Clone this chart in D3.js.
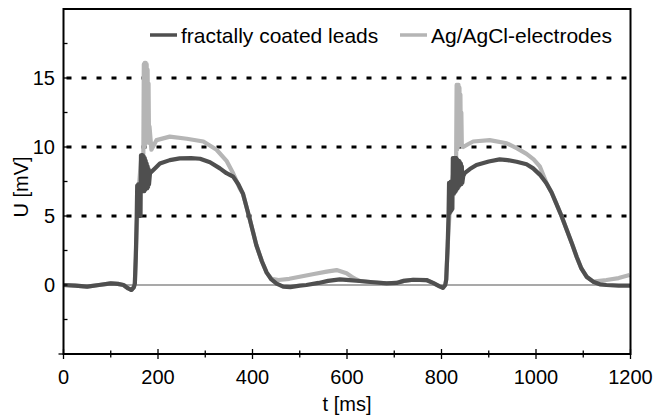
<!DOCTYPE html>
<html>
<head>
<meta charset="utf-8">
<script src="https://cdn.jsdelivr.net/npm/d3@7"></script>
<style>
  body { margin: 0; background: #fff; }
  text { font-family: "Liberation Sans", Arial, sans-serif; fill: #000; }
</style>
</head>
<body>
<div id="chart-area"></div>
<script>
// fractally coated leads (dark)
var darkT = [0, 25, 50, 75, 100, 115, 127, 137, 144, 149, 151, 153, 155, 156, 157, 158, 159, 160, 161, 162, 163,
    164, 165, 166, 167, 168, 169, 170, 171, 172, 173, 174, 175, 176, 177, 178, 179, 180, 181, 183, 195, 204, 225, 246, 270, 289, 310,
    331, 345, 359, 370, 380, 394, 408, 420, 430, 440, 451, 465, 480, 500, 514, 540, 560, 585, 605, 627, 655, 684,
    705, 720, 740, 768, 782, 796, 803, 808, 810, 813, 815, 816, 817, 818, 819, 820, 821, 822, 823, 824, 826, 827,
    828, 829, 830, 831, 832, 833, 834, 835, 836, 837, 838, 839, 840, 841, 842, 843, 844, 846, 849, 860, 874, 900, 923, 940, 959, 980, 994,
    1008, 1022, 1033, 1043, 1054, 1065, 1076, 1086, 1096, 1107, 1121, 1135, 1149, 1175, 1200]
var darkU = [0, -0.05, -0.12, 0.0, 0.12, 0.08, 0.0, -0.25, -0.36, -0.15, 0.1, 2.0, 5.0, 7.2, 5.0, 7.3, 5.0, 7.3, 5.0, 7.3, 5.0,
    9.4, 6.8, 9.4, 6.8, 9.4, 6.8, 9.3, 6.8, 9.2, 6.9, 9.0, 7.0, 8.8, 7.0, 8.6, 7.1, 8.4, 7.3, 8.1, 8.5, 8.8, 9.05, 9.18, 9.2, 9.15, 8.9,
    8.45, 8.1, 7.85, 7.3, 6.6, 4.8, 2.9, 1.7, 0.9, 0.4, 0.1, -0.12, -0.15, -0.05, 0.0, 0.15, 0.3, 0.41, 0.35, 0.29, 0.2, 0.12,
    0.15, 0.3, 0.38, 0.36, 0.15, -0.1, -0.2, 0.0, 0.4, 2.8, 5.2, 7.4, 5.2, 7.4, 5.3, 7.5, 5.4, 7.5, 5.5, 9.2, 6.6, 9.2,
    6.7, 9.2, 6.8, 9.2, 6.9, 9.1, 7.0, 9.0, 7.1, 9.0, 7.2, 8.9, 7.3, 8.8, 7.3, 8.6, 7.4, 7.9, 8.1, 8.4, 8.7, 8.95, 9.1, 9.05, 8.93, 8.75, 8.45,
    8.0, 7.37, 6.7, 5.9, 5.0, 4.0, 3.0, 2.05, 1.2, 0.6, 0.24, 0.05, 0.0, -0.05, -0.05]

// Ag/AgCl-electrodes (light)
var lightT = [0, 25, 50, 75, 100, 115, 127, 137, 144, 149, 151, 153, 156, 160, 164, 167, 169, 170, 171, 172, 173, 174, 175,
    176, 177, 178, 179, 180, 181, 182, 186, 197, 225, 261, 296, 324, 345, 359, 373, 380, 394, 408, 420, 430, 440, 455, 478, 500, 530, 557, 578,
    599, 610, 620, 627, 655, 684, 705, 720, 740, 768, 782, 796, 803, 808, 810, 813, 817, 822, 828, 831, 832, 833, 834, 835, 836,
    837, 838, 839, 840, 841, 842, 843, 846, 856, 867, 902, 938, 960, 980, 995, 1008, 1022, 1033, 1043, 1054, 1065, 1076, 1086, 1096, 1107,
    1121, 1135, 1149, 1175, 1198]
var lightU = [0, -0.05, -0.12, 0.0, 0.12, 0.08, 0.0, -0.25, -0.36, -0.15, 0.1, 2.0, 5.0, 7.3, 9.0, 9.2, 9.5, 16.0, 10.0, 16.1, 10.2, 16.1, 10.4,
    16.0, 10.5, 15.6, 10.6, 14.6, 10.3, 11.5, 9.8, 10.5, 10.75, 10.6, 10.4, 9.8, 9.0, 8.1, 7.0, 6.6, 4.8, 2.9, 1.7, 0.9, 0.45, 0.36, 0.45, 0.6, 0.8, 0.97, 1.08,
    0.85, 0.6, 0.4, 0.29, 0.2, 0.12, 0.15, 0.3, 0.38, 0.36, 0.15, -0.1, -0.2, 0.0, 0.4, 2.8, 5.2, 7.3, 9.0, 9.2, 14.5, 9.8, 14.5, 10.0,
    14.5, 10.1, 14.3, 10.2, 13.8, 10.2, 12.5, 10.1, 10.0, 10.2, 10.4, 10.5, 10.27, 9.9, 9.5, 9.1, 8.6, 7.4, 6.7, 5.9, 5.0, 4.0, 3.0, 2.05, 1.2, 0.6,
    0.24, 0.3, 0.36, 0.5, 0.72]

var xMajor = [0, 200, 400, 600, 800, 1000, 1200]
var xMinor = [100, 300, 500, 700, 900, 1100]
var yLabels = [0, 5, 10, 15]
var yMinor = [-5, -2.5, 2.5, 7.5, 12.5, 17.5, 20]
var gridLevels = [5, 10, 15]
var seriesNames = ["fractally coated leads", "Ag/AgCl-electrodes"]
var seriesColors = ["#4f4f4f", "#b5b5b5"]

var width = 657, height = 419
var plotL = 63.5, plotR = 630.5, plotT = 9, plotB = 354

var svg = d3.select("#chart-area").append("svg")
    .attr("width", width)
    .attr("height", height)

var x = d3.scaleLinear().domain([0, 1200]).range([plotL, plotR])
var y = d3.scaleLinear().domain([-5, 20]).range([plotB, plotT])

// dotted grid lines
svg.append("g")
    .selectAll("line")
    .data(gridLevels)
    .enter().append("line")
    .attr("x1", plotL + 3)
    .attr("x2", plotR)
    .attr("y1", d => y(d))
    .attr("y2", d => y(d))
    .attr("stroke", "#000")
    .attr("stroke-width", 3.2)
    .attr("stroke-dasharray", "5,10")

// zero line
svg.append("line")
    .attr("x1", plotL).attr("x2", plotR)
    .attr("y1", y(0)).attr("y2", y(0))
    .attr("stroke", "#555")
    .attr("stroke-width", 1.2)

var line = d3.line()
    .x(d => x(d[0]))
    .y(d => y(d[1]))

var lightData = lightT.map((t, i) => [t, lightU[i]])
var darkData = darkT.map((t, i) => [t, darkU[i]])

svg.append("path")
    .datum(lightData)
    .attr("d", line)
    .attr("fill", "none")
    .attr("stroke", seriesColors[1])
    .attr("stroke-width", 4.2)
    .attr("stroke-linejoin", "round")

svg.append("path")
    .datum(darkData)
    .attr("d", line)
    .attr("fill", "none")
    .attr("stroke", seriesColors[0])
    .attr("stroke-width", 4.2)
    .attr("stroke-linejoin", "round")

// frame
svg.append("rect")
    .attr("x", plotL).attr("y", plotT)
    .attr("width", plotR - plotL).attr("height", plotB - plotT)
    .attr("fill", "none")
    .attr("stroke", "#000")
    .attr("stroke-width", 2)

// x axis ticks crossing the bottom line
var xTicks = svg.append("g")
xTicks.selectAll(".major")
    .data(xMajor)
    .enter().append("line")
    .attr("class", "major")
    .attr("x1", d => x(d)).attr("x2", d => x(d))
    .attr("y1", plotB - 5).attr("y2", plotB + 5)
    .attr("stroke", "#000").attr("stroke-width", 1.3)
xTicks.selectAll(".minor")
    .data(xMinor)
    .enter().append("line")
    .attr("class", "minor")
    .attr("x1", d => x(d)).attr("x2", d => x(d))
    .attr("y1", plotB - 3.5).attr("y2", plotB + 3.5)
    .attr("stroke", "#000").attr("stroke-width", 1.3)
xTicks.selectAll("text")
    .data(xMajor)
    .enter().append("text")
    .attr("x", d => x(d))
    .attr("y", 384)
    .attr("text-anchor", "middle")
    .style("font-size", "20px")
    .text(d => d)

// y axis ticks, inward
var yTicks = svg.append("g")
yTicks.selectAll("line")
    .data(yLabels.concat(yMinor))
    .enter().append("line")
    .attr("x1", plotL).attr("x2", plotL + 4)
    .attr("y1", d => y(d)).attr("y2", d => y(d))
    .attr("stroke", "#000").attr("stroke-width", 1.3)
yTicks.append("line")
    .attr("x1", plotL - 5).attr("x2", plotL)
    .attr("y1", plotB).attr("y2", plotB)
    .attr("stroke", "#000").attr("stroke-width", 1.3)
yTicks.selectAll("text")
    .data(yLabels)
    .enter().append("text")
    .attr("x", 55)
    .attr("y", d => y(d))
    .attr("dy", "0.36em")
    .attr("text-anchor", "end")
    .style("font-size", "20px")
    .text(d => d)

// axis titles
svg.append("text")
    .attr("transform", "translate(28,187) rotate(-90)")
    .attr("text-anchor", "middle")
    .style("font-size", "20px")
    .text("U [mV]")

svg.append("text")
    .attr("x", 347)
    .attr("y", 411)
    .attr("text-anchor", "middle")
    .style("font-size", "20px")
    .text("t [ms]")

// legend
var legendX = [150, 400]
var legend = svg.append("g")
seriesNames.forEach(function (name, i) {
    legend.append("line")
        .attr("x1", legendX[i]).attr("x2", legendX[i] + 27)
        .attr("y1", 35).attr("y2", 35)
        .attr("stroke", seriesColors[i])
        .attr("stroke-width", 3.5)
    legend.append("text")
        .attr("x", legendX[i] + 31)
        .attr("y", 42.5)
        .style("font-size", "21px")
        .text(name)
})
</script>
</body>
</html>
